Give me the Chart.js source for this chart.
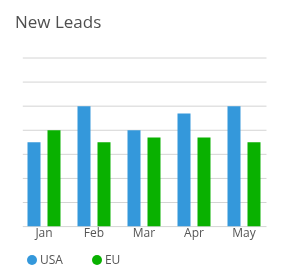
<!DOCTYPE html>
<html>
<head>
<meta charset="utf-8">
<script src="https://cdn.jsdelivr.net/npm/chart.js@4.4.0/dist/chart.umd.min.js"></script>
<style>
    html, body { margin: 0; padding: 0; background: #ffffff; }
    #card { position: relative; width: 289px; height: 279px; font-family: "Open Sans", sans-serif; }
    #title { position: absolute; left: 15px; top: 10px; font-size: 17px; color: #4f4f4f; }
    #chartBox { position: absolute; left: 0; top: 0; width: 289px; height: 279px; }
    #legend { position: absolute; left: 27px; top: 251px; display: flex; font-size: 12px; color: #555555; }
    .legend-item { display: flex; align-items: center; margin-right: 29px; }
    .legend-dot { width: 10px; height: 10px; border-radius: 50%; margin-right: 3px; }
</style>
</head>
<body>
<div id="card">
    <canvas id="chartBox" width="289" height="279"></canvas>
    <div id="title">New Leads</div>
    <div id="legend"></div>
</div>
<script>
/*
 Data
*/
const months = ["Jan", "Feb", "Mar", "Apr", "May"];
const usaLeads = [35, 50, 40, 47, 50];
const euLeads = [40, 35, 37, 37, 35];
const seriesNames = ["USA", "EU"];
const seriesColors = ["#3498db", "#09b100"];
const yMax = 70;
const yStep = 10;

/*
 Grid lines (drawn a bit inset from the bar area, like the original)
*/
const insetGrid = {
    id: "insetGrid",
    beforeDatasetsDraw(chart) {
        const { ctx, chartArea, scales } = chart;
        ctx.save();
        ctx.strokeStyle = "#d4d4d4";
        ctx.lineWidth = 1;
        scales.y.ticks.forEach((tick) => {
            const y = scales.y.getPixelForValue(tick.value);
            ctx.beginPath();
            ctx.moveTo(chartArea.left + 3.8, y);
            ctx.lineTo(chartArea.right - 2.5, y);
            ctx.stroke();
        });
        ctx.restore();
    }
};

const chart = new Chart(document.getElementById("chartBox"), {
    type: "bar",
    data: {
        labels: months,
        datasets: [
            { label: seriesNames[0], data: usaLeads, backgroundColor: seriesColors[0], borderWidth: 0 },
            { label: seriesNames[1], data: euLeads, backgroundColor: seriesColors[1], borderWidth: 0 }
        ]
    },
    options: {
        responsive: false,
        animation: false,
        devicePixelRatio: 1,
        categoryPercentage: 0.8,
        barPercentage: 0.65,
        layout: {
            padding: { left: 19, right: 20, top: 58, bottom: 38 }
        },
        plugins: {
            legend: { display: false },
            tooltip: { enabled: false }
        },
        scales: {
            x: {
                grid: { display: false, drawTicks: false },
                border: { display: false },
                ticks: {
                    padding: 0,
                    color: "#555555",
                    font: { family: "'Open Sans', sans-serif", size: 12 }
                }
            },
            y: {
                display: false,
                min: 0,
                max: yMax,
                ticks: { stepSize: yStep }
            }
        }
    },
    plugins: [insetGrid]
});

/*
 Legend
*/
const legend = document.getElementById("legend");
chart.data.datasets.forEach((ds) => {
    const item = document.createElement("div");
    item.className = "legend-item";
    const dot = document.createElement("span");
    dot.className = "legend-dot";
    dot.style.background = ds.backgroundColor;
    const text = document.createElement("span");
    text.textContent = ds.label;
    item.appendChild(dot);
    item.appendChild(text);
    legend.appendChild(item);
});
</script>
</body>
</html>
